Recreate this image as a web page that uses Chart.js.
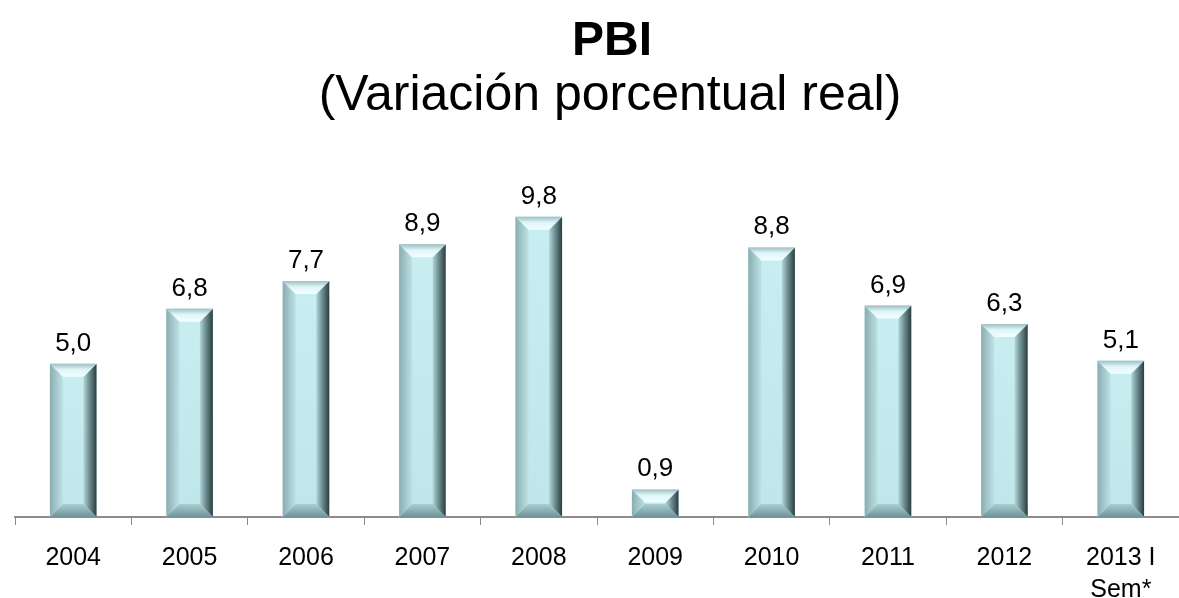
<!DOCTYPE html>
<html>
<head>
<meta charset="utf-8">
<script src="https://cdn.jsdelivr.net/npm/chart.js@4/dist/chart.umd.min.js"></script>
<style>
html,body{margin:0;padding:0;background:#fff;}
#wrap{width:1179px;height:598px;position:relative;}
</style>
</head>
<body>
<div id="wrap"><canvas id="c" width="1179" height="598"></canvas></div>
<script>
const categories = ["2004","2005","2006","2007","2008","2009","2010","2011","2012",["2013 I","Sem*"]];
const pbiValues = [5.0, 6.8, 7.7, 8.9, 9.8, 0.9, 8.8, 6.9, 6.3, 5.1];
const valueLabels = ["5,0","6,8","7,7","8,9","9,8","0,9","8,8","6,9","6,3","5,1"];
const titleText = "PBI";
const subtitleText = "(Variación porcentual real)";

const FONT = "'Liberation Sans', Arial, Helvetica, sans-serif";

const titlePlugin = {
  id: 'customTitle',
  afterDraw(chart) {
    const ctx = chart.ctx;
    ctx.save();
    ctx.fillStyle = '#000';
    ctx.textAlign = 'center';
    ctx.textBaseline = 'alphabetic';
    ctx.font = 'bold 48px ' + FONT;
    ctx.fillText(titleText, 612, 55);
    ctx.font = '50px ' + FONT;
    ctx.fillText(subtitleText, 610, 110);
    ctx.restore();
  }
};

function lg(ctx, x0, y0, x1, y1, stops) {
  const g = ctx.createLinearGradient(x0, y0, x1, y1);
  stops.forEach(s => g.addColorStop(s[0], s[1]));
  return g;
}

const bevelPlugin = {
  id: 'bevel',
  afterDatasetsDraw(chart) {
    const ctx = chart.ctx;
    const meta = chart.getDatasetMeta(0);
    ctx.save();
    meta.data.forEach((bar, i) => {
      const p = bar.getProps(['x','y','base','width'], true);
      const x0 = p.x - p.width/2, x1 = p.x + p.width/2;
      const y0 = Math.min(p.y, p.base), y1 = Math.max(p.y, p.base);
      const h = y1 - y0;
      const b = Math.min(13, h/2);
      // body
      ctx.fillStyle = lg(ctx, 0, y0, 0, y1, [[0,'#c9eef2'],[1,'#bfe6ea']]);
      ctx.fillRect(x0, y0, x1-x0, h);
      // left
      ctx.beginPath();
      ctx.moveTo(x0,y0); ctx.lineTo(x0+b,y0+b); ctx.lineTo(x0+b,y1-b); ctx.lineTo(x0,y1); ctx.closePath();
      ctx.fillStyle = lg(ctx, x0, 0, x0+b, 0, [[0,'#8aadb0'],[1,'#bde2e6']]);
      ctx.fill();
      // right
      ctx.beginPath();
      ctx.moveTo(x1,y0); ctx.lineTo(x1,y1); ctx.lineTo(x1-b,y1-b); ctx.lineTo(x1-b,y0+b); ctx.closePath();
      ctx.fillStyle = lg(ctx, x1-b, 0, x1, 0, [[0,'#b2d6d9'],[0.45,'#6f8f92'],[1,'#2b3d3f']]);
      ctx.fill();
      // top
      ctx.beginPath();
      ctx.moveTo(x0,y0); ctx.lineTo(x1,y0); ctx.lineTo(x1-b,y0+b); ctx.lineTo(x0+b,y0+b); ctx.closePath();
      ctx.fillStyle = lg(ctx, 0, y0, 0, y0+b, [[0,'#9ebfc2'],[0.45,'#dff6f8'],[1,'#f4feff']]);
      ctx.fill();
      // bottom
      ctx.beginPath();
      ctx.moveTo(x0,y1); ctx.lineTo(x1,y1); ctx.lineTo(x1-b,y1-b); ctx.lineTo(x0+b,y1-b); ctx.closePath();
      ctx.fillStyle = lg(ctx, 0, y1-b, 0, y1, [[0,'#a9cfd2'],[1,'#6f9396']]);
      ctx.fill();
      // value label
      ctx.fillStyle = '#000';
      ctx.font = '26px ' + FONT;
      ctx.textAlign = 'center';
      ctx.textBaseline = 'alphabetic';
      ctx.fillText(valueLabels[i], p.x, y0 - 13);
    });
    ctx.restore();
  }
};

new Chart(document.getElementById('c'), {
  type: 'bar',
  data: {
    labels: categories,
    datasets: [{
      data: pbiValues,
      backgroundColor: '#c4e9ee',
      borderWidth: 0,
      barPercentage: 0.4,
      categoryPercentage: 1.0
    }]
  },
  options: {
    responsive: false,
    animation: false,
    devicePixelRatio: 1,
    layout: { padding: { top: 180, left: 15, right: 0, bottom: 0 } },
    plugins: { legend: { display: false }, tooltip: { enabled: false }, title: { display: false } },
    scales: {
      x: {
        offset: true,
        afterFit(scale) { scale.height = 81; },
        grid: { display: true, offset: true, drawOnChartArea: false, drawTicks: true, tickLength: 8, color: '#8c8c8c', lineWidth: 1 },
        border: { display: true, color: '#8c8c8c', width: 2 },
        ticks: { color: '#000', font: { size: 25, family: FONT, lineHeight: 1.28 }, padding: 17, maxRotation: 0, autoSkip: false }
      },
      y: {
        display: false,
        min: 0,
        max: 11
      }
    }
  },
  plugins: [titlePlugin, bevelPlugin]
});
</script>
</body>
</html>
